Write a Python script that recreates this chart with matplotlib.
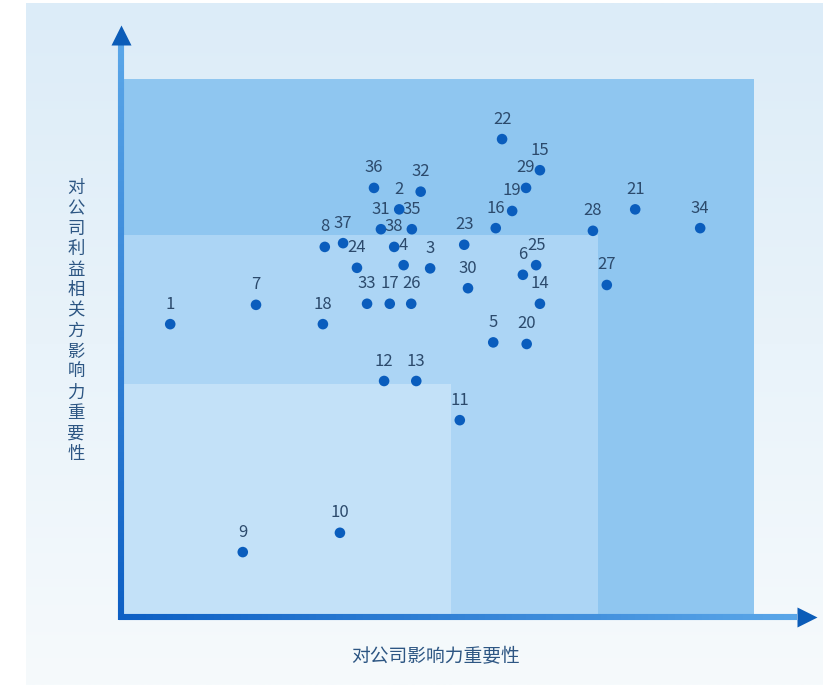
import numpy as np
import matplotlib
matplotlib.use("Agg")
import matplotlib.pyplot as plt
from matplotlib.patches import Rectangle
from matplotlib.collections import LineCollection
from matplotlib.colors import LinearSegmentedColormap, to_rgb

plt.rcParams['font.family'] = ['Noto Sans CJK SC', 'DejaVu Sans']

# issue ids and their positions (x: importance to company, y: importance to stakeholders)
ids = [1, 2, 3, 4, 5, 6, 7, 8, 9, 10, 11, 12, 13, 14, 15, 16, 17, 18, 19,
       20, 21, 22, 23, 24, 25, 26, 27, 28, 29, 30, 31, 32, 33, 34, 35, 36, 37, 38]
x_vals = [0.78, 4.41, 4.90, 4.48, 5.90, 6.37, 2.14, 3.23, 1.93, 3.47, 5.37, 4.17, 4.68,
          6.64, 6.64, 5.94, 4.26, 3.20, 6.20, 6.43, 8.15, 6.04, 5.44, 3.74, 6.58, 4.60,
          7.70, 7.48, 6.42, 5.50, 4.12, 4.75, 3.90, 9.18, 4.61, 4.01, 3.52, 4.33]
y_vals = [5.46, 7.60, 6.50, 6.56, 5.12, 6.38, 5.82, 6.90, 1.21, 1.57, 3.67, 4.40, 4.40,
          5.84, 8.33, 7.25, 5.84, 5.46, 7.57, 5.09, 7.60, 8.91, 6.94, 6.51, 6.56, 5.84,
          6.19, 7.20, 8.00, 6.13, 7.23, 7.93, 5.84, 7.25, 7.23, 8.00, 6.97, 6.90]

# nested importance zones (width, height), outer to inner
zone_w = [10.03, 7.56, 5.23]
zone_h = [10.03, 7.12, 4.34]
zone_colors = ['#8fc6f0', '#acd5f5', '#c3e1f8']

xlabel = '对公司影响力重要性'
ylabel = '对公司利益相关方影响力重要性'

W, H = 823, 685
fig = plt.figure(figsize=(W / 100, H / 100), dpi=100)
fig.patch.set_facecolor('white')

# sky-like background panel
bg = fig.add_axes([0, 0, 1, 1])
bg.set_xlim(0, W)
bg.set_ylim(H, 0)
bg.axis('off')
grad = np.linspace(0, 1, 256).reshape(-1, 1)
sky = LinearSegmentedColormap.from_list('sky', ['#dcecf8', '#e9f3fa', '#f6fafc'])
bg.imshow(grad, cmap=sky, aspect='auto', extent=(26, W, H, 3), zorder=0)

# main plotting area
left, right, top, bottom = 121, 815, 27, 617
ax = fig.add_axes([left / W, (H - bottom) / H, (right - left) / W, (bottom - top) / H])
ax.set_xlim(0, 11)
ax.set_ylim(0, 11)
ax.axis('off')
ax.patch.set_alpha(0)

for w, h, c in zip(zone_w, zone_h, zone_colors):
    ax.add_patch(Rectangle((0, 0), w, h, facecolor=c, edgecolor='none', zorder=1))

# gradient axis lines
def grad_line(x0, y0, x1, y1, c0, c1, n=100):
    xs = np.linspace(x0, x1, n + 1)
    ys = np.linspace(y0, y1, n + 1)
    segs = [[(xs[i], ys[i]), (xs[i + 1], ys[i + 1])] for i in range(n)]
    a, b = np.array(to_rgb(c0)), np.array(to_rgb(c1))
    cols = [a + (b - a) * t for t in np.linspace(0, 1, n)]
    lc = LineCollection(segs, colors=cols, linewidths=4.4, capstyle='butt', zorder=3, clip_on=False)
    ax.add_collection(lc)

grad_line(-0.03, 0, 10.72, 0, '#0d5fc4', '#5aa6e8')
grad_line(0, -0.05, 0, 10.72, '#0d5fc4', '#5aa6e8')
ax.plot(10.87, 0, marker='>', ms=14, color='#0b5cb8', clip_on=False, zorder=4, mec='none')
ax.plot(0, 10.86, marker='^', ms=14, color='#0b5cb8', clip_on=False, zorder=4, mec='none')

ax.scatter(x_vals, y_vals, s=58, color='#0a5dbd', edgecolors='none', zorder=5)
for i, x, y in zip(ids, x_vals, y_vals):
    ax.annotate(str(i), (x, y), xytext=(0, 20), textcoords='offset pixels',
                ha='center', va='center', fontsize=12, color='#2c4a6c', zorder=6)

fig.text(436 / W, 1 - 657 / H, xlabel, ha='center', va='center', fontsize=13.5, color='#2d5683')
fig.text(76 / W, 1 - 321 / H, '\n'.join(ylabel), ha='center', va='center', fontsize=12.5,
         color='#2d5683', linespacing=1.18)

fig.savefig('out.png', dpi=100)
